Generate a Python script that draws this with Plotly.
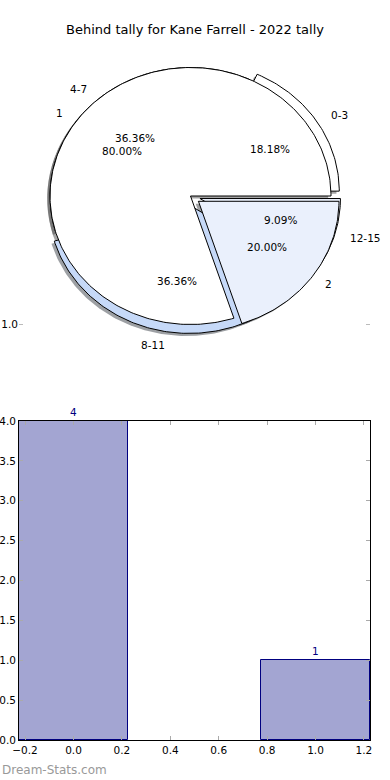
import numpy as np
import plotly.graph_objects as go

# ---------------- data ----------------
TITLE = "Behind tally for Kane Farrell - 2022 tally"
outer_labels = ["0-3", "4-7", "8-11", "12-15"]
outer_values = [2, 4, 4, 1]
inner_labels = ["1", "2"]
inner_values = [4, 1]
bar_categories = [0, 1]
bar_values = [4, 1]
bar_labels = ["4", "1"]
x_tick_vals = [-0.2, 0.0, 0.2, 0.4, 0.6, 0.8, 1.0, 1.2]
x_tick_text = ["\u22120.2", "0.0", "0.2", "0.4", "0.6", "0.8", "1.0", "1.2"]
y_tick_vals = [0, 0.5, 1, 1.5, 2, 2.5, 3, 3.5, 4]
pie_tick_vals = [-1.0]
pie_tick_text = ["1.0"]
WATERMARK = "Dream-Stats.com"

# ---------------- styles ----------------
outer_explode = [0.07, 0.0, 0.07, 0.07]
outer_colors = ["#ffffff", "#ffffff", "#c6d9f8", "#eaf0fc"]
inner_explode = [0.0, 0.07]
inner_colors = ["#ffffff", "#eaf0fc"]
BAR_WIDTH = 0.45
BAR_FILL = "#a3a5d2"
BAR_EDGE = "#000080"
FONT = "DejaVu Sans"

W, H = 390, 780


def px_x(p):
    return p / W


def px_y(p):
    return 1 - p / H


# pie axes geometry (pixel based)
PIE_L, PIE_R = 19, 370
PIE_T, PIE_B = 40, 350
CX, CY = 190.5, 196
RX, RY = 140.5, 128.5

pie_xrange = [(PIE_L - CX) / RX, (PIE_R - CX) / RX]
pie_yrange = [-(PIE_B - CY) / RY, (CY - PIE_T) / RY]


def wedges(values, explode):
    total = float(sum(values))
    out = []
    start = 0.0
    for v, e in zip(values, explode):
        t1 = start
        t2 = start + 360.0 * v / total
        mid = np.deg2rad((t1 + t2) / 2)
        cx, cy = e * np.cos(mid), e * np.sin(mid)
        th = np.deg2rad(np.linspace(t1, t2, max(int(t2 - t1), 2) + 1))
        xs = np.concatenate([[cx], cx + np.cos(th), [cx]])
        ys = np.concatenate([[cy], cy + np.sin(th), [cy]])
        out.append(dict(xs=xs, ys=ys, mid=mid, cx=cx, cy=cy, frac=v / total))
        start = t2
    return out


def shade(hexcol):
    h = hexcol.lstrip("#")
    r, g, b = (int(h[i:i + 2], 16) for i in (0, 2, 4))
    return "rgba(%d,%d,%d,0.5)" % (int(0.3 * r), int(0.3 * g), int(0.3 * b))


outer_w = wedges(outer_values, outer_explode)
inner_w = wedges(inner_values, inner_explode)

fig = go.Figure()

# shadows (below all wedges)
for ws, cols in ((outer_w, outer_colors), (inner_w, inner_colors)):
    for w, c in zip(ws, cols):
        fig.add_trace(go.Scatter(
            x=w["xs"] - 0.02, y=w["ys"] - 0.02, mode="lines", fill="toself",
            fillcolor=shade(c), line=dict(width=0), hoverinfo="skip",
            xaxis="x", yaxis="y"))

# wedges
for ws, cols in ((outer_w, outer_colors), (inner_w, inner_colors)):
    for w, c in zip(ws, cols):
        fig.add_trace(go.Scatter(
            x=w["xs"], y=w["ys"], mode="lines", fill="toself",
            fillcolor=c, line=dict(color="black", width=1), hoverinfo="skip",
            xaxis="x", yaxis="y"))

annotations = []
for ws, labels in ((outer_w, outer_labels), (inner_w, inner_labels)):
    for w, lab in zip(ws, labels):
        lx = w["cx"] + 1.1 * np.cos(w["mid"])
        ly = w["cy"] + 1.1 * np.sin(w["mid"])
        annotations.append(dict(
            x=lx, y=ly, xref="x", yref="y", text=lab, showarrow=False,
            xanchor="left" if lx > 0 else "right", yanchor="middle",
            font=dict(family=FONT, size=10.5, color="black")))
        px = w["cx"] + 0.6 * np.cos(w["mid"])
        py = w["cy"] + 0.6 * np.sin(w["mid"])
        annotations.append(dict(
            x=px, y=py, xref="x", yref="y", text="%.2f%%" % (100 * w["frac"]),
            showarrow=False, xanchor="center", yanchor="middle",
            font=dict(family=FONT, size=10.5, color="black")))

# bars
fig.add_trace(go.Bar(
    x=bar_categories, y=bar_values, width=BAR_WIDTH,
    marker=dict(color=BAR_FILL, line=dict(color=BAR_EDGE, width=1)),
    hoverinfo="skip", xaxis="x2", yaxis="y2"))

for xv, yv, t in zip(bar_categories, bar_values, bar_labels):
    annotations.append(dict(
        x=xv, y=yv, xref="x2", yref="y2", text=t, showarrow=False,
        xanchor="center", yanchor="bottom", yshift=1,
        font=dict(family=FONT, size=10.5, color=BAR_EDGE)))

annotations.append(dict(
    x=0.5, y=px_y(30), xref="paper", yref="paper", text=TITLE,
    showarrow=False, xanchor="center", yanchor="middle",
    font=dict(family=FONT, size=13, color="black")))
annotations.append(dict(
    x=px_x(0), y=px_y(770), xref="paper", yref="paper", text=WATERMARK,
    showarrow=False, xanchor="left", yanchor="middle",
    font=dict(family=FONT, size=12, color="#999999")))

bar_xrange = [bar_categories[0] - BAR_WIDTH / 2, bar_categories[-1] + BAR_WIDTH / 2]

fig.update_layout(
    width=W, height=H,
    margin=dict(l=0, r=0, t=0, b=0, autoexpand=False),
    paper_bgcolor="white", plot_bgcolor="rgba(0,0,0,0)",
    showlegend=False,
    bargap=0,
    annotations=annotations,
    font=dict(family=FONT, size=10, color="black"),
    xaxis=dict(domain=[px_x(PIE_L), px_x(PIE_R)], range=pie_xrange,
               showgrid=False, zeroline=False, showline=False, automargin=False,
               showticklabels=False, ticks="", fixedrange=True),
    yaxis=dict(domain=[px_y(PIE_B), px_y(PIE_T)], range=pie_yrange,
               showgrid=False, zeroline=False, showline=False, automargin=False,
               tickvals=pie_tick_vals, ticktext=pie_tick_text,
               ticks="inside", ticklen=4, tickcolor="#bbbbbb",
               mirror="allticks", tickfont=dict(size=10.5),
               fixedrange=True),
    xaxis2=dict(domain=[px_x(19), px_x(370)], range=bar_xrange, anchor="y2",
                showgrid=False, zeroline=False, showline=True, automargin=False,
                linecolor="black", linewidth=1, mirror="allticks",
                ticks="inside", ticklen=4, tickcolor="#aaaaaa",
                tickvals=x_tick_vals, ticktext=x_tick_text,
                tickfont=dict(size=10.5), fixedrange=True),
    yaxis2=dict(domain=[px_y(740), px_y(421)], range=[0, 4], anchor="x2",
                showgrid=False, zeroline=False, showline=True, automargin=False,
                linecolor="black", linewidth=1, mirror="allticks",
                ticks="inside", ticklen=4, tickcolor="#aaaaaa",
                tickvals=y_tick_vals, tickformat=".1f",
                tickfont=dict(size=10.5), fixedrange=True),
)

fig.write_html("out.html", config={"displayModeBar": False},
               post_script="document.body.style.margin='0';document.body.style.padding='0';")
